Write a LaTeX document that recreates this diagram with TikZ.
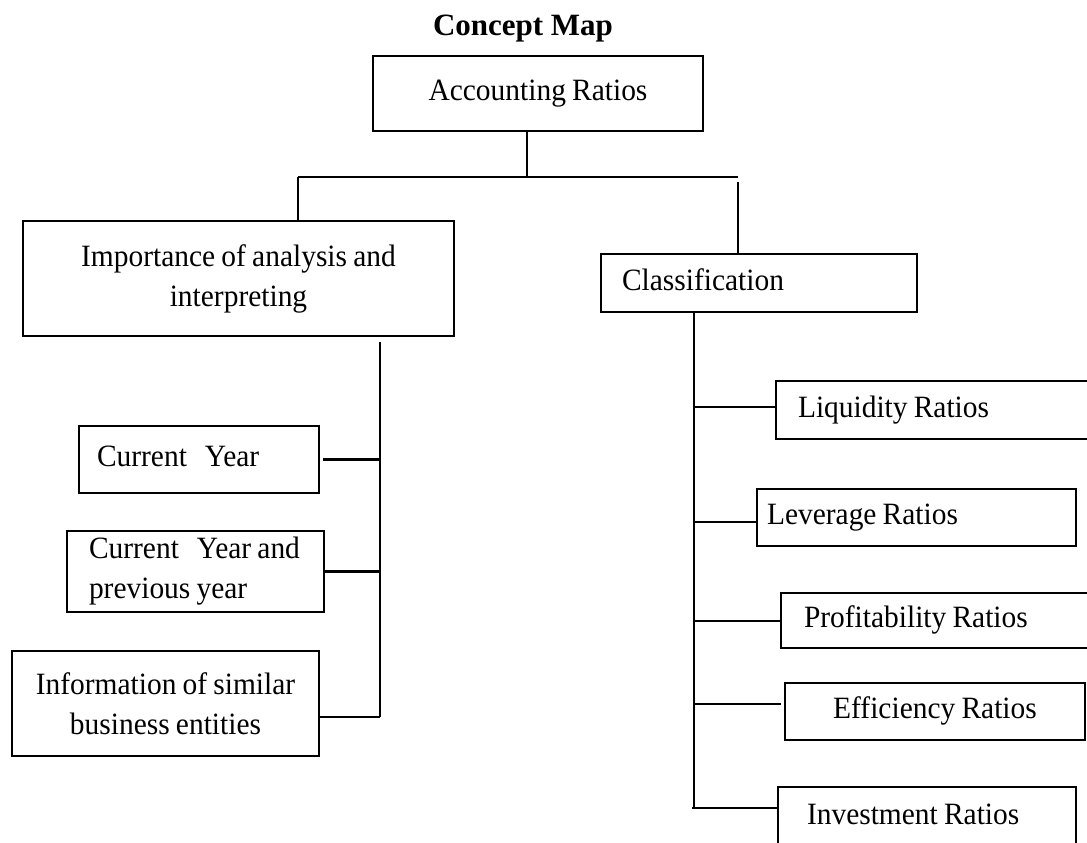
\documentclass[tikz,border=0pt]{standalone}
\usepackage{fontspec}
\setmainfont{Liberation Serif}[FakeStretch=0.95]
\newfontfamily\headfont{Liberation Serif}
\begin{document}
\begin{tikzpicture}[x=1pt,y=-1pt,
  line width=2.4pt,
  txt/.style={font=\fontsize{31}{40}\selectfont,
    execute at begin node={\spaceskip=0.2em\relax}},
  box/.style={txt, draw, rectangle, inner sep=0pt},
  oneline/.style={text height=22pt, text depth=8pt},
  leftbox/.style={box, oneline, align=left, text width=#1, minimum width=#1}
]
\useasboundingbox (0,0) rectangle (1087,843);
\clip (0,0) rectangle (1087,843);

% title
\node[font=\headfont\fontsize{31}{40}\selectfont\bfseries, anchor=base, inner sep=0pt] (title) at (523,36) {Concept Map};

% root
\node[box, oneline, minimum width=330pt, minimum height=75pt] (acc) at (538,93.5) {Accounting Ratios};

% left branch
\node[box, align=center, minimum width=431pt, minimum height=115pt] (imp) at (238.5,278.5)
  {Importance of analysis and\\interpreting};
\node[leftbox=240pt, minimum height=67pt] (cy) at (199,459.5)
  {\hspace*{18pt}Current\hspace{18pt}Year};
\node[box, align=left, text width=257pt, minimum width=257pt, minimum height=81pt] (prev) at (195.5,571.5)
  {\hspace*{22pt}Current\hspace{18pt}Year and\\\hspace*{22pt}previous year};
\node[box, align=center, minimum width=307pt, minimum height=105pt] (info) at (165.5,703.5)
  {Information of similar\\business entities};

% right branch
\node[leftbox=316pt, minimum height=58pt] (cls) at (759,283) {\hspace*{21pt}Classification};
\node[leftbox=324pt, minimum height=58pt] (liq) at (938,410) {\hspace*{22pt}Liquidity Ratios};
\node[leftbox=319pt, minimum height=57pt] (lev) at (916.5,517.5) {\hspace*{10pt}Leverage Ratios};
\node[leftbox=319pt, minimum height=55pt] (prof) at (940.5,620.5) {\hspace*{23pt}Profitability Ratios};
\node[box, oneline, minimum width=300pt, minimum height=57pt] (eff) at (935,711.5) {Efficiency Ratios};
\node[leftbox=298pt, minimum height=61pt] (inv) at (927,817.5) {\hspace*{29pt}Investment Ratios};

% connector points
\coordinate (bus) at (527,177);
\coordinate (busL) at (298,177);
\coordinate (busR) at (738,177);
\coordinate (ltop) at (380,342);
\coordinate (lbot) at (380,717);
\coordinate (rtop) at (694,312);
\coordinate (r1) at (694,407);
\coordinate (r2) at (694,522);
\coordinate (r3) at (694,621);
\coordinate (r4) at (694,704);
\coordinate (r5) at (694,808);

% top level
\draw (acc.south -| bus) -- (bus);
\draw (busL) -- (busR);
\draw (busL) -- (imp.north -| busL);
\draw ([yshift=-5pt]busR) -- (cls.north -| busR);

% left trunk
\draw (ltop) -- (lbot);
\draw ([xshift=3pt]cy.east) -- (cy.east -| ltop);
\draw (prev.east) -- (prev.east -| ltop);
\draw (info.east |- lbot) -- (lbot);

% right trunk
\draw (rtop) -- (r5);
\draw (r1) -- (liq.west |- r1);
\draw (r2) -- (lev.west |- r2);
\draw (r3) -- (prof.west |- r3);
\draw (r4) -- ([xshift=-3pt]eff.west |- r4);
\draw ([xshift=-2pt]r5) -- (inv.west |- r5);
\end{tikzpicture}
\end{document}
